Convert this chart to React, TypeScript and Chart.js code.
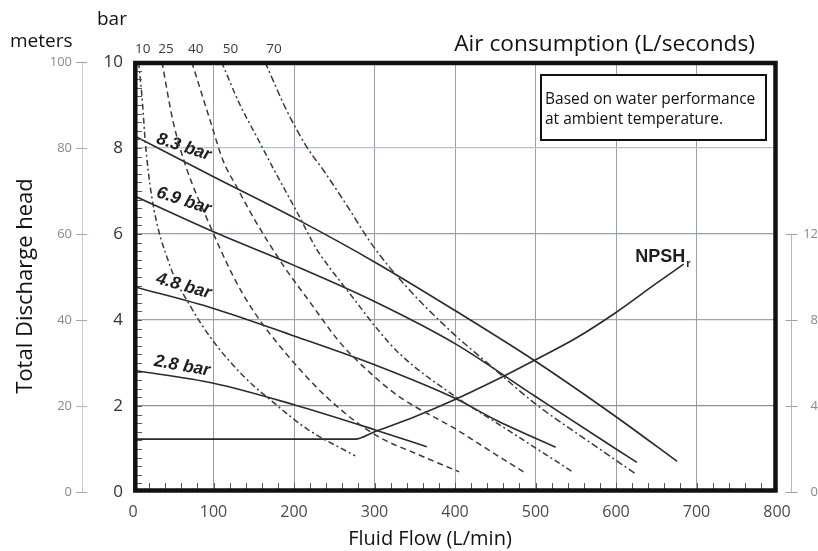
import React, { useEffect, useRef } from 'react';
import { Chart, registerables } from 'chart.js';

Chart.register(...registerables);

// ---------------- data ----------------
// Pressure (solid) curves: fluid flow (L/min) vs total discharge head (bar)
const p83Flow = [0, 100, 200, 300, 400, 500, 600, 676];
const p83Head = [8.3, 7.33, 6.38, 5.35, 4.22, 3.04, 1.75, 0.71];

const p69Flow = [0, 100, 200, 300, 400, 500, 600, 626];
const p69Head = [6.9, 6.05, 5.27, 4.43, 3.45, 2.22, 1.0, 0.69];

const p48Flow = [0, 100, 200, 300, 400, 450, 525];
const p48Head = [4.78, 4.27, 3.63, 2.96, 2.18, 1.68, 1.04];

const p28Flow = [0, 100, 200, 300, 365];
const p28Head = [2.83, 2.53, 2.03, 1.45, 1.05];

// NPSHr curve (metres, right-hand scale)
const npshFlow = [0, 276, 300, 350, 400, 456, 500, 550, 600, 650, 684];
const npshM = [2.46, 2.46, 2.8, 3.5, 4.3, 5.3, 6.15, 7.15, 8.35, 9.7, 10.6];

// Air consumption (dashed) curves: flow vs head (bar)
const a10Flow = [7, 12, 15, 23, 46, 71, 100, 137, 174, 216, 276];
const a10Head = [10, 9.0, 8.2, 6.9, 5.26, 4.33, 3.5, 2.7, 2.09, 1.47, 0.84];

const a25Flow = [36, 50, 67, 92, 125, 150, 191, 241, 299, 357, 405];
const a25Head = [10, 8.6, 7.5, 6.35, 5.0, 4.2, 3.2, 2.2, 1.35, 0.85, 0.47];

const a40Flow = [73, 96, 112, 129, 150, 187, 220, 257, 303, 332, 402, 444, 485];
const a40Head = [10, 8.63, 7.7, 7.09, 6.37, 5.26, 4.41, 3.48, 2.63, 2.2, 1.45, 0.95, 0.47];

const a50Flow = [110, 133, 154, 175, 204, 228, 241, 274, 303, 332, 402, 444, 546];
const a50Head = [10, 9.0, 8.25, 7.5, 6.5, 5.65, 5.3, 4.5, 3.8, 3.2, 2.2, 1.7, 0.47];

const a70Flow = [164, 191, 216, 237, 262, 299, 336, 394, 444, 500, 568, 626];
const a70Head = [10, 8.87, 8.02, 7.47, 6.77, 5.7, 4.85, 3.75, 2.94, 2.05, 1.15, 0.4];

// tick labels
const airLabels = ['10', '25', '40', '50', '70'];
const airLabelFlow = [12, 41, 78, 121, 175];
const rightTicks = [0, 4, 8, 12];
const meterTicks = [0, 20, 40, 60, 80, 100];

// curve labels (anchored in data coordinates)
const curveLabels = [
  { text: '8.3 bar', flow: 63, head: 8.02, angle: 18 },
  { text: '6.9 bar', flow: 63, head: 6.77, angle: 18 },
  { text: '4.8 bar', flow: 63, head: 4.79, angle: 16 },
  { text: '2.8 bar', flow: 61, head: 2.93, angle: 10 },
];

// ---------------- helpers ----------------
const pts = (xs: number[], ys: number[]) => xs.map((x, i) => ({ x, y: ys[i] }));

const hGridColor = (v: number) =>
  ({ 2: '#8d88bd', 4: '#b39ca4', 6: '#8e9dc0', 8: '#abc4d9' } as Record<number, string>)[v] ??
  'rgba(0,0,0,0)';
const meterTickColor = (v: number) =>
  ({ 0: '#a8a8b0', 20: '#d8a8a8', 40: '#b0a6a6', 60: '#8fb2d2', 80: '#a8b0c0', 100: '#a0a0a8' } as Record<
    number,
    string
  >)[v] ?? '#aaa';

const FONT = "'Open Sans', 'Noto Sans', sans-serif";

const solid = (label: string, xs: number[], ys: number[], axis = 'y') => ({
  label,
  data: pts(xs, ys),
  yAxisID: axis,
  borderColor: '#2a2a2a',
  borderWidth: 1.6,
  pointRadius: 0,
  fill: false,
  cubicInterpolationMode: 'monotone' as const,
});

const dashed = (label: string, xs: number[], ys: number[], dash: number[]) => ({
  label,
  data: pts(xs, ys),
  yAxisID: 'y',
  borderColor: '#3a3a3a',
  borderWidth: 1.5,
  borderDash: dash,
  pointRadius: 0,
  fill: false,
  cubicInterpolationMode: 'monotone' as const,
});

const decorPlugin = {
  id: 'decor',
  afterDraw(chart: any) {
    const { ctx, chartArea: a, scales } = chart;
    const x = scales.x, y = scales.y, yR = scales.yR, yM = scales.yM;
    ctx.save();

    // minor ticks inside the frame
    ctx.strokeStyle = '#5a5a5a';
    ctx.lineWidth = 1;
    ctx.beginPath();
    for (let i = 1; i < 50; i++) {
      const py = Math.round(y.getPixelForValue(i * 0.2)) + 0.5;
      ctx.moveTo(a.left + 4, py);
      ctx.lineTo(a.left + 9, py);
    }
    for (let i = 1; i < 40; i++) {
      const px = Math.round(x.getPixelForValue(i * 20)) + 0.5;
      ctx.moveTo(px, a.bottom - 3);
      ctx.lineTo(px, a.bottom - 9);
    }
    ctx.stroke();

    // meters-axis ticks continue to the right of the axis line
    meterTicks.forEach((v) => {
      const py = Math.round(yM.getPixelForValue(v)) + 0.5;
      ctx.strokeStyle = meterTickColor(v);
      ctx.beginPath();
      ctx.moveTo(yM.right, py);
      ctx.lineTo(yM.right + 5, py);
      ctx.stroke();
    });

    // thick frame
    ctx.strokeStyle = '#111';
    ctx.lineWidth = 4.5;
    const fl = a.left + 2.3, fr = a.right - 1.5, ft = a.top + 1, fb = a.bottom - 1.5;
    ctx.strokeRect(fl, ft, fr - fl, fb - ft);

    // right-hand NPSH axis line and ticks
    const rx = a.right + 14.5;
    ctx.strokeStyle = '#b4b6c2';
    ctx.lineWidth = 1;
    ctx.beginPath();
    ctx.moveTo(rx, yR.getPixelForValue(0));
    ctx.lineTo(rx, yR.getPixelForValue(12));
    ctx.stroke();
    ctx.strokeStyle = '#a0a0a8';
    ctx.beginPath();
    rightTicks.forEach((v) => {
      const py = Math.round(yR.getPixelForValue(v)) + 0.5;
      ctx.moveTo(rx - 6, py);
      ctx.lineTo(rx + 6, py);
    });
    ctx.stroke();

    // texts
    ctx.fillStyle = '#111';
    ctx.textBaseline = 'alphabetic';
    ctx.textAlign = 'left';
    ctx.font = `19px ${FONT}`;
    ctx.fillText('meters', 10, 47);
    ctx.fillText('bar', 97, 25);

    ctx.font = `22.7px ${FONT}`;
    ctx.textAlign = 'right';
    ctx.fillText('Air consumption (L/seconds)', a.right - 22, 51);

    ctx.textAlign = 'center';
    ctx.font = `20px ${FONT}`;
    ctx.fillText('Fluid Flow (L/min)', 430, 545);

    ctx.save();
    ctx.translate(32, 286);
    ctx.rotate(-Math.PI / 2);
    ctx.font = `22px ${FONT}`;
    ctx.fillText('Total Discharge head', 0, 0);
    ctx.restore();

    // annotation box
    const bx = a.right - 236, by = a.top + 13, bw = 225, bh = 65;
    ctx.fillStyle = '#fff';
    ctx.fillRect(bx, by, bw, bh);
    ctx.strokeStyle = '#111';
    ctx.lineWidth = 2;
    ctx.strokeRect(bx, by, bw, bh);
    ctx.fillStyle = '#111';
    ctx.textAlign = 'left';
    ctx.font = `15.5px ${FONT}`;
    ctx.fillText('Based on water performance', bx + 4, by + 29);
    ctx.fillText('at ambient temperature.', bx + 4, by + 49);

    // curve labels
    ctx.fillStyle = '#1e1e1e';
    ctx.font = "italic bold 17.5px 'Liberation Sans', Arial, sans-serif";
    ctx.textAlign = 'center';
    ctx.textBaseline = 'middle';
    curveLabels.forEach((l) => {
      ctx.save();
      ctx.translate(x.getPixelForValue(l.flow), y.getPixelForValue(l.head));
      ctx.rotate((l.angle * Math.PI) / 180);
      ctx.fillText(l.text, 0, 0);
      ctx.restore();
    });

    // NPSHr label
    ctx.textAlign = 'left';
    ctx.textBaseline = 'alphabetic';
    ctx.font = "bold 18px 'Liberation Sans Narrow', 'Liberation Sans', Arial, sans-serif";
    const nx = x.getPixelForValue(624), ny = yR.getPixelForValue(10.7);
    ctx.fillText('NPSH', nx, ny);
    const w = ctx.measureText('NPSH').width;
    ctx.font = "bold 11px 'Liberation Sans', Arial, sans-serif";
    ctx.fillText('r', nx + w + 1, ny + 5);

    ctx.restore();
  },
};

export default function App() {
  const ref = useRef<HTMLCanvasElement>(null);

  useEffect(() => {
    Chart.defaults.font.family = FONT;
    const chart = new Chart(ref.current as HTMLCanvasElement, {
      type: 'line',
      data: {
        datasets: [
          dashed('Air 10', a10Flow, a10Head, [6, 3, 2, 3]),
          dashed('Air 25', a25Flow, a25Head, [6, 4]),
          dashed('Air 40', a40Flow, a40Head, [6, 4]),
          dashed('Air 50', a50Flow, a50Head, [6, 3, 2, 3]),
          dashed('Air 70', a70Flow, a70Head, [7, 3, 2, 3]),
          solid('8.3 bar', p83Flow, p83Head),
          solid('6.9 bar', p69Flow, p69Head),
          solid('4.8 bar', p48Flow, p48Head),
          solid('2.8 bar', p28Flow, p28Head),
          solid('NPSHr', npshFlow, npshM, 'yR'),
        ] as any,
      },
      options: {
        responsive: false,
        animation: false,
        events: [],
        layout: { padding: { top: 32, bottom: 29, left: 0, right: 0 } },
        plugins: { legend: { display: false }, tooltip: { enabled: false }, title: { display: false } },
        scales: {
          x: {
            type: 'linear',
            position: 'bottom',
            min: 0,
            max: 800,
            ticks: { stepSize: 100, padding: 11, color: '#4a4a4a', font: { size: 16 }, maxRotation: 0 },
            grid: {
              color: (c: any) => (c.tick && c.tick.value > 0 && c.tick.value < 800 ? '#9d9eab' : 'rgba(0,0,0,0)'),
              drawTicks: false,
              lineWidth: 1,
            },
            border: { display: false },
            afterFit: (s: any) => {
              s.height = 30;
            },
          },
          x2: {
            type: 'linear',
            position: 'top',
            min: 0,
            max: 800,
            afterBuildTicks: (s: any) => {
              s.ticks = airLabelFlow.map((v) => ({ value: v }));
            },
            ticks: {
              autoSkip: false,
              maxRotation: 0,
              padding: 5,
              color: '#3a3a3a',
              font: { size: 13.5 },
              callback: (_v: any, i: number) => airLabels[i],
            },
            grid: { display: false, drawTicks: false },
            border: { display: false },
            afterFit: (s: any) => {
              s.height = 30;
            },
          },
          y: {
            type: 'linear',
            position: 'left',
            weight: 0,
            min: 0,
            max: 10,
            ticks: { stepSize: 2, padding: 10, color: '#333', font: { size: 17 } },
            grid: {
              color: (c: any) => hGridColor(c.tick ? c.tick.value : -1),
              drawTicks: false,
              lineWidth: 1.3,
            },
            border: { display: false },
            afterFit: (s: any) => {
              s.width = 51;
            },
          },
          yM: {
            type: 'linear',
            position: 'left',
            weight: 5,
            min: 0,
            max: 100,
            ticks: { stepSize: 20, padding: 4, color: '#8a8a8a', font: { size: 13 } },
            grid: {
              drawOnChartArea: false,
              drawTicks: true,
              tickLength: 6,
              color: (c: any) => meterTickColor(c.tick ? c.tick.value : -1),
            },
            border: { display: true, color: '#c8cad8', width: 1 },
            afterFit: (s: any) => {
              s.width = 82;
            },
          },
          yR: {
            type: 'linear',
            position: 'right',
            min: 0,
            max: 20,
            afterBuildTicks: (s: any) => {
              s.ticks = rightTicks.map((v) => ({ value: v }));
            },
            ticks: { padding: 21, color: '#8a8a8a', font: { size: 13 }, crossAlign: 'far' },
            grid: { display: false, drawTicks: false },
            border: { display: false },
            afterFit: (s: any) => {
              s.width = 41;
            },
          },
        } as any,
      },
      plugins: [decorPlugin],
    });
    return () => chart.destroy();
  }, []);

  return (
    <div style={{ position: 'absolute', left: 0, top: 0, width: 818, height: 551, background: '#fff' }}>
      <canvas ref={ref} width={818} height={551} style={{ display: 'block', width: 818, height: 551 }} />
    </div>
  );
}
